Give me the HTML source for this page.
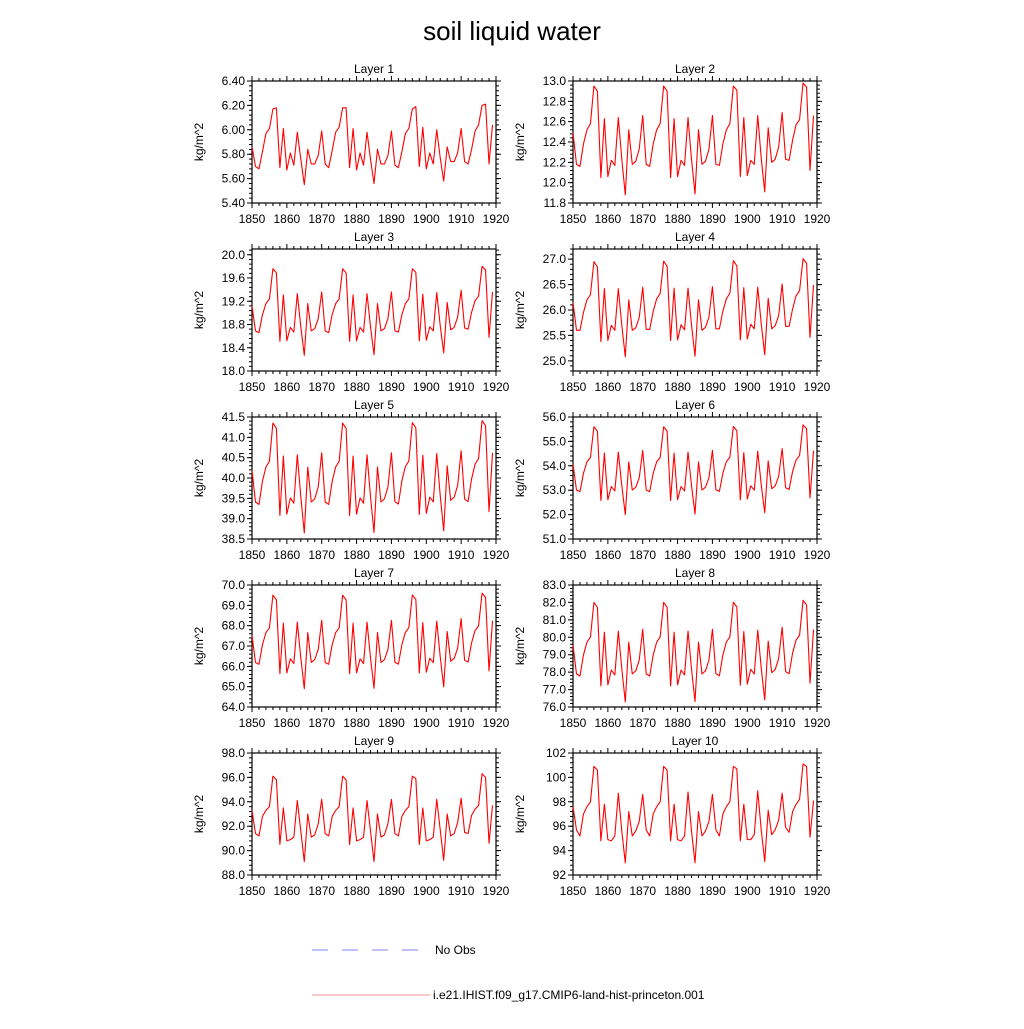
<!DOCTYPE html>
<html><head><meta charset="utf-8"><style>
html,body{margin:0;padding:0;background:#fff;}
svg text{font-family:"Liberation Sans",sans-serif;fill:#000;}
</style></head><body>
<svg id="chart" width="1024" height="1024" viewBox="0 0 1024 1024" xmlns="http://www.w3.org/2000/svg">
<rect width="1024" height="1024" fill="#fff"/>
<text x="512" y="40" font-size="26" text-anchor="middle">soil liquid water</text>
<g id="panels"></g>
<g>
<line x1="312" y1="950" x2="418" y2="950" stroke="#8080ff" stroke-width="1" stroke-dasharray="16,14"/>
<text x="435" y="954" font-size="12">No Obs</text>
<line x1="312" y1="995" x2="430" y2="995" stroke="#ff9090" stroke-width="1"/>
<text x="433" y="999" font-size="12">i.e21.IHIST.f09_g17.CMIP6-land-hist-princeton.001</text>
</g>
</svg>
<script>
const years = [];
for (let y = 1850; y <= 1919; y++) years.push(y);
const xTicks = [1850,1860,1870,1880,1890,1900,1910,1920];
const layerNames = ["Layer 1","Layer 2","Layer 3","Layer 4","Layer 5","Layer 6","Layer 7","Layer 8","Layer 9","Layer 10"];
const yMin = [5.4,11.8,18.0,24.8,38.5,51,64,76,88,92];
const yMax = [6.4,13.0,20.1,27.2,41.5,56,70,83,98,102];
const yTickStart = [5.4,11.8,18.0,25.0,38.5,51,64,76,88,92];
const yTickStep = [0.2,0.2,0.4,0.5,0.5,1,1,1,2,2];
const yTickDecimals = [2,1,1,1,1,1,1,1,1,0];

const layer1 = [5.86,
5.70,5.68,5.82,5.97,6.01,6.17,6.18,5.69,6.01,5.67,5.81,5.71,5.98,5.76,5.55,5.84,5.72,5.72,5.79,5.99,
5.72,5.69,5.83,5.98,6.02,6.18,6.18,5.69,6.01,5.67,5.81,5.71,5.98,5.76,5.56,5.84,5.72,5.72,5.79,5.99,
5.71,5.69,5.82,5.97,6.01,6.17,6.19,5.70,6.02,5.68,5.81,5.72,6.00,5.77,5.58,5.86,5.74,5.74,5.81,6.01,
5.74,5.72,5.84,5.99,6.04,6.20,6.21,5.72,6.04];
const layer2 = [12.49,
12.18,12.16,12.38,12.52,12.58,12.95,12.90,12.05,12.63,12.06,12.22,12.17,12.64,12.23,11.88,12.52,12.18,12.21,12.33,12.66,
12.18,12.16,12.38,12.52,12.58,12.95,12.90,12.05,12.63,12.06,12.22,12.17,12.64,12.23,11.89,12.52,12.18,12.21,12.33,12.66,
12.18,12.17,12.38,12.52,12.58,12.95,12.91,12.06,12.64,12.07,12.22,12.18,12.66,12.24,11.91,12.54,12.20,12.23,12.35,12.69,
12.23,12.22,12.42,12.57,12.62,12.98,12.94,12.12,12.66];
const layer3 = [19.12,
18.69,18.66,18.97,19.16,19.24,19.76,19.69,18.51,19.31,18.52,18.75,18.67,19.33,18.76,18.27,19.16,18.69,18.73,18.90,19.36,
18.69,18.66,18.97,19.16,19.24,19.76,19.69,18.51,19.31,18.52,18.75,18.67,19.33,18.76,18.28,19.16,18.69,18.73,18.90,19.36,
18.69,18.67,18.97,19.16,19.24,19.76,19.70,18.52,19.32,18.53,18.76,18.69,19.35,18.78,18.31,19.18,18.71,18.75,18.93,19.39,
18.74,18.72,19.01,19.21,19.29,19.80,19.74,18.58,19.36];
const layer4 = [26.15,
25.60,25.60,25.95,26.20,26.30,26.95,26.85,25.38,26.42,25.40,25.70,25.60,26.42,25.70,25.08,26.20,25.60,25.65,25.85,26.45,
25.62,25.62,25.97,26.22,26.32,26.96,26.86,25.40,26.43,25.41,25.71,25.61,26.43,25.71,25.09,26.20,25.60,25.66,25.86,26.46,
25.63,25.63,25.98,26.22,26.33,26.97,26.87,25.41,26.44,25.43,25.72,25.63,26.45,25.73,25.12,26.23,25.63,25.69,25.89,26.51,
25.68,25.68,26.02,26.28,26.38,27.01,26.92,25.46,26.49];
const layer5 = [40.19,
39.41,39.35,39.92,40.27,40.41,41.35,41.22,39.08,40.54,39.11,39.51,39.38,40.57,39.54,38.65,40.27,39.41,39.49,39.78,40.62,
39.41,39.35,39.92,40.27,40.41,41.35,41.22,39.08,40.54,39.11,39.51,39.38,40.57,39.54,38.66,40.27,39.41,39.49,39.78,40.62,
39.42,39.36,39.93,40.28,40.42,41.36,41.23,39.10,40.56,39.13,39.53,39.41,40.60,39.57,38.70,40.30,39.45,39.53,39.82,40.67,
39.48,39.42,39.98,40.34,40.48,41.41,41.29,39.17,40.62];
const layer6 = [54.05,
53.01,52.94,53.69,54.16,54.34,55.60,55.42,52.58,54.52,52.61,53.15,52.97,54.56,53.19,52.00,54.16,53.01,53.12,53.51,54.63,
53.01,52.94,53.69,54.16,54.34,55.60,55.42,52.58,54.52,52.61,53.15,52.97,54.56,53.19,52.02,54.16,53.01,53.12,53.51,54.63,
53.02,52.95,53.70,54.17,54.35,55.61,55.44,52.60,54.54,52.64,53.18,53.00,54.60,53.23,52.08,54.20,53.06,53.17,53.57,54.70,
53.10,53.03,53.77,54.24,54.42,55.68,55.52,52.68,54.62];
const layer7 = [67.52,
66.19,66.10,67.06,67.66,67.89,69.50,69.27,65.64,68.12,65.68,66.37,66.14,68.17,66.42,64.90,67.66,66.19,66.33,66.83,68.26,
66.19,66.10,67.06,67.66,67.89,69.50,69.27,65.64,68.12,65.68,66.37,66.14,68.17,66.42,64.92,67.66,66.19,66.33,66.83,68.26,
66.20,66.11,67.07,67.67,67.90,69.51,69.29,65.67,68.15,65.71,66.40,66.18,68.22,66.47,64.99,67.71,66.25,66.39,66.90,68.35,
66.30,66.21,67.16,67.76,67.99,69.60,69.39,65.77,68.24];
const layer8 = [79.55,
77.90,77.78,78.98,79.72,80.01,82.00,81.72,77.21,80.29,77.27,78.12,77.84,80.35,78.18,76.30,79.72,77.90,78.07,78.69,80.46,
77.90,77.78,78.98,79.72,80.01,82.00,81.72,77.21,80.29,77.27,78.12,77.84,80.35,78.18,76.32,79.72,77.90,78.07,78.69,80.46,
77.91,77.79,78.99,79.73,80.02,82.01,81.74,77.25,80.33,77.31,78.16,77.89,80.41,78.24,76.41,79.78,77.97,78.15,78.78,80.57,
78.03,77.91,79.10,79.84,80.13,82.12,81.86,77.37,80.44];
const layer9 = [93.3,
91.4,91.2,92.8,93.3,93.6,96.1,95.8,90.5,93.5,90.8,90.9,91.1,94.1,91.6,89.1,93.0,91.1,91.3,92.2,94.2,
91.4,91.2,92.8,93.3,93.6,96.1,95.8,90.5,93.5,90.8,90.9,91.1,94.1,91.6,89.1,93.0,91.1,91.3,92.2,94.2,
91.4,91.2,92.8,93.3,93.6,96.1,95.9,90.5,93.5,90.8,90.9,91.1,94.2,91.7,89.2,93.0,91.2,91.4,92.3,94.3,
91.5,91.4,92.9,93.4,93.7,96.3,96.0,90.6,93.7];
const layer10 = [97.6,
95.7,95.2,97.0,97.6,98.0,100.9,100.6,94.8,97.8,94.9,94.8,95.2,98.7,95.6,93.0,97.2,95.2,95.6,96.4,98.6,
95.7,95.2,97.0,97.6,98.0,100.9,100.6,94.8,97.8,94.9,94.8,95.2,98.8,95.6,93.0,97.2,95.2,95.6,96.4,98.6,
95.7,95.2,97.0,97.6,98.0,100.9,100.7,94.8,97.8,94.9,94.9,95.3,98.9,95.7,93.1,97.3,95.3,95.7,96.5,98.7,
95.9,95.5,97.2,97.8,98.2,101.1,100.9,95.1,98.1];
const series = [layer1,layer2,layer3,layer4,layer5,layer6,layer7,layer8,layer9,layer10];

const NS = "http://www.w3.org/2000/svg";
const root = document.getElementById("panels");
function mk(tag, attrs, parent) {
  const e = document.createElementNS(NS, tag);
  for (const k in attrs) e.setAttribute(k, attrs[k]);
  parent.appendChild(e);
  return e;
}
const colX = [252, 573], plotW = 244, rowY = [81,249,417,585,753], plotH = 122;

for (let p = 0; p < 10; p++) {
  const L = colX[p % 2], T = rowY[Math.floor(p / 2)], R = L + plotW, B = T + plotH;
  const g = mk("g", {}, root);
  
  
  const xs = v => L + (v - 1850) / 70 * plotW;
  const ys = v => B - (v - yMin[p]) / (yMax[p] - yMin[p]) * plotH;

  const t = mk("text", {x: (L + R) / 2, y: T - 8, "font-size": 12, "text-anchor": "middle"}, g);
  t.textContent = layerNames[p];
  
  

  const yt = mk("text", {x: 0, y: 0, "font-size": 12, "text-anchor": "middle", transform: `translate(${L - 49},${(T + B) / 2}) rotate(-90)`}, g);
  yt.textContent = "kg/m^2";
  
  

  // x ticks
  xTicks.forEach((v, i) => {
    const x = xs(v);
    const tk = mk("path", {d: `M${x},${B}v5M${x},${T}v-5`, stroke: "#000", "stroke-width": 1}, g);
    
    
    const lb = mk("text", {x: x, y: B + 20, "font-size": 12, "text-anchor": "middle"}, g);
    lb.textContent = String(v);
    
    
  });
  // minor x ticks
  for (let v = 1850; v <= 1920; v += 2) {
    if ((v - 1850) % 10 === 0) continue;
    const x = xs(v);
    const mt = mk("path", {d: `M${x},${B}v3M${x},${T}v-3`, stroke: "#000", "stroke-width": 1}, g);
    
    
  }
  // y ticks
  const step = yTickStep[p], minor = step / 5;
  for (let k = 0; ; k++) {
    const v = +(yMin[p] + k * minor).toFixed(6);
    if (v > yMax[p] + 1e-6) break;
    const y = ys(v);
    const mt = mk("path", {d: `M${L},${y}h-3M${R},${y}h3`, stroke: "#000", "stroke-width": 1}, g);
    
    
  }
  for (let k = 0; ; k++) {
    const v = +(yTickStart[p] + k * step).toFixed(6);
    if (v > yMax[p] + 1e-6) break;
    const y = ys(v);
    const tk = mk("path", {d: `M${L},${y}h-5M${R},${y}h5`, stroke: "#000", "stroke-width": 1}, g);
    
    
    const lb = mk("text", {x: L - 7, y: y + 4, "font-size": 12, "text-anchor": "end"}, g);
    lb.textContent = v.toFixed(yTickDecimals[p]);
    
    
  }
  // frame
  const fr = mk("rect", {x: L, y: T, width: plotW, height: plotH, fill: "none", stroke: "#000", "stroke-width": 1.2}, g);
  
  
  // series
  const pts = series[p].map((v, i) => xs(years[i]).toFixed(2) + "," + ys(v).toFixed(2)).join(" ");
  const ln = mk("polyline", {points: pts, fill: "none", stroke: "#ff0000", "stroke-width": 1.1, "stroke-linejoin": "round"}, g);
  
  
}
</script>
</body></html>
